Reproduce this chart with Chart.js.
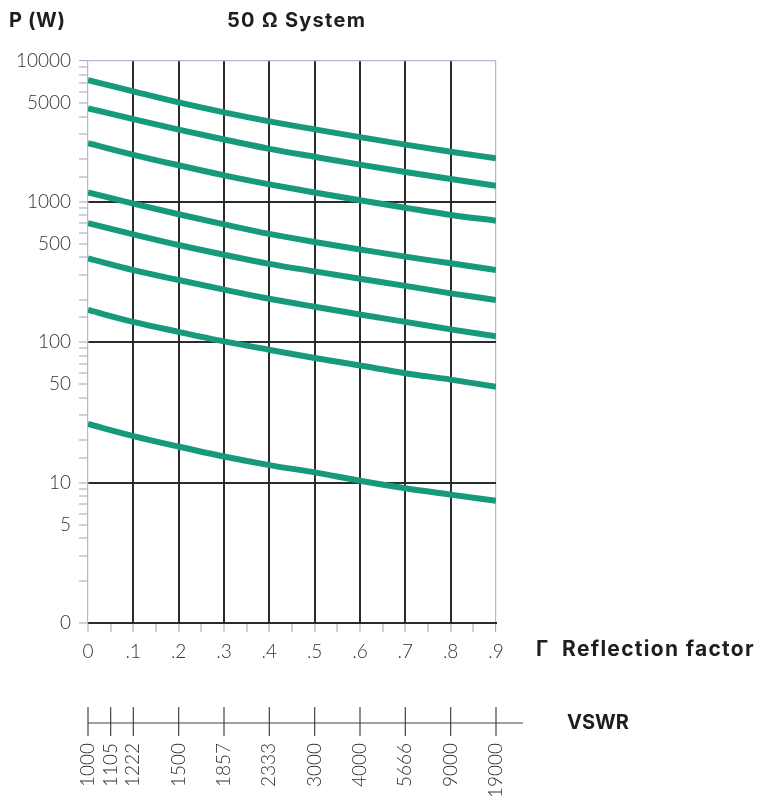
<!DOCTYPE html>
<html>
<head>
<meta charset="utf-8">
<script src="https://cdn.jsdelivr.net/npm/chart.js@4.4.1/dist/chart.umd.min.js"></script>
<style>
    body { margin: 0; background: #fff; }
    #wrap { position: relative; width: 763px; height: 801px; }
    .t { position: absolute; font-family: Inter, 'Open Sans', sans-serif; font-weight: 700; color: #1e1e1e; white-space: nowrap; line-height: 1; }
</style>
</head>
<body>
<div id="wrap">
    <canvas id="chart" width="763" height="801"></canvas>
    <div class="t" style="left:9px; top:10px; font-size:20px; letter-spacing:0.6px;">P (W)</div>
    <div class="t" style="left:227px; top:10px; font-size:20px; letter-spacing:1.3px;">50 Ω System</div>
    <div class="t" style="left:536px; top:638px; font-size:21px; letter-spacing:1.3px;">Γ&nbsp;&nbsp;Reflection factor</div>
    <div class="t" style="left:567px; top:712px; font-size:20px;">VSWR</div>
</div>
<script>
// Reflection factor positions
const gammaValues = [0, 0.1, 0.2, 0.3, 0.4, 0.5, 0.6, 0.7, 0.8, 0.9];

// Power curves (W)
const curve1 = [7320, 6080, 5070, 4310, 3720, 3260, 2870, 2540, 2260, 2030];
const curve2 = [4600, 3860, 3250, 2760, 2370, 2080, 1830, 1620, 1445, 1295];
const curve3 = [2600, 2150, 1810, 1535, 1325, 1160, 1020, 903, 802, 730];
const curve4 = [1160, 965, 812, 688, 588, 515, 456, 405, 363, 325];
const curve5 = [700, 584, 490, 418, 360, 318, 282, 251, 222, 199];
const curve6 = [394, 325, 276, 236, 203, 178, 157, 139, 123, 110];
const curve7 = [169, 139, 118, 101, 88, 77, 68, 60, 54, 48];
const curve8 = [26.1, 21.4, 18.0, 15.3, 13.3, 11.8, 10.3, 9.1, 8.2, 7.4];

// y tick labels (value -> text)
const yTickValues = [1, 5, 10, 50, 100, 500, 1000, 5000, 10000];
const yTickTexts  = ['0', '5', '10', '50', '100', '500', '1000', '5000', '10000'];

// VSWR scale under the chart
const vswrGamma  = [0, 0.05, 0.1, 0.2, 0.3, 0.4, 0.5, 0.6, 0.7, 0.8, 0.9];
const vswrLabels = ['1000', '1105', '1222', '1500', '1857', '2333', '3000', '4000', '5666', '9000', '19000'];

const curves = [curve1, curve2, curve3, curve4, curve5, curve6, curve7, curve8];
const TEAL = '#17997b';
const DARK = '#2b2b2b';
const LIGHT = '#aebbcc';
const tickFont = { family: "Lato, 'Open Sans', sans-serif", size: 19, weight: '300' };

const datasets = curves.map((c, i) => ({
    label: 'P' + (i + 1),
    data: c.map((v, k) => ({ x: gammaValues[k], y: v })),
    borderColor: TEAL,
    borderWidth: 6,
    pointRadius: 0,
    cubicInterpolationMode: 'monotone',
    fill: false
}));

// VSWR axis drawn from the x scale
const vswrAxis = {
    id: 'vswrAxis',
    afterDraw(chart) {
        const ctx = chart.ctx;
        const xs = chart.scales.x;
        const yLine = chart.chartArea.bottom + 100;
        ctx.save();
        ctx.strokeStyle = '#444';
        ctx.lineWidth = 1.2;
        ctx.beginPath();
        ctx.moveTo(xs.getPixelForValue(0), yLine);
        ctx.lineTo(xs.getPixelForValue(0.9) + 27, yLine);
        ctx.stroke();
        ctx.fillStyle = '#333';
        ctx.font = '300 19px Lato, "Open Sans", sans-serif';
        vswrGamma.forEach((g, i) => {
            const px = xs.getPixelForValue(g);
            ctx.beginPath();
            ctx.moveTo(px, yLine - 16);
            ctx.lineTo(px, yLine + 13);
            ctx.stroke();
            ctx.save();
            ctx.translate(px, yLine + 20);
            ctx.rotate(-Math.PI / 2);
            ctx.textAlign = 'right';
            ctx.textBaseline = 'middle';
            ctx.fillText(vswrLabels[i], 0, 0);
            ctx.restore();
        });
        ctx.restore();
    }
};

const xIsMajor = v => Math.round(v * 100) % 10 === 0;

new Chart(document.getElementById('chart'), {
    type: 'line',
    data: { datasets: datasets },
    options: {
        responsive: false,
        animation: false,
        events: [],
        layout: { padding: { top: 61, right: 267, bottom: 138, left: 0 } },
        plugins: { legend: { display: false }, tooltip: { enabled: false } },
        scales: {
            x: {
                type: 'linear',
                min: 0,
                max: 0.9,
                afterFit: s => { s.height = 40; },
                border: { color: DARK, width: 2 },
                grid: {
                    color: c => {
                        const v = Math.round(c.tick.value * 100);
                        if (v === 0) return 'rgba(0,0,0,0)';
                        if (v === 90) return LIGHT;
                        return v % 10 === 0 ? DARK : 'rgba(0,0,0,0)';
                    },
                    lineWidth: c => Math.round(c.tick.value * 100) === 90 ? 1.2 : 2,
                    tickColor: '#9aa5b4',
                    tickWidth: 1,
                    tickLength: 9
                },
                ticks: {
                    stepSize: 0.05,
                    autoSkip: false,
                    maxRotation: 0,
                    padding: 8,
                    color: '#333',
                    font: tickFont,
                    callback: v => {
                        if (!xIsMajor(v)) return '';
                        const n = Math.round(v * 10);
                        return n === 0 ? '0' : '.' + n;
                    }
                }
            },
            y: {
                type: 'logarithmic',
                min: 1,
                max: 10000,
                afterFit: s => { s.width = 88; },
                border: { color: LIGHT, width: 1.2 },
                grid: {
                    color: c => {
                        const v = Math.round(c.tick.value);
                        if (v === 10 || v === 100 || v === 1000) return DARK;
                        if (v === 10000) return LIGHT;
                        return 'rgba(0,0,0,0)';
                    },
                    lineWidth: c => Math.round(c.tick.value) === 10000 ? 1.2 : 2,
                    tickColor: '#9aa5b4',
                    tickWidth: 1,
                    tickLength: 9
                },
                ticks: {
                    autoSkip: false,
                    padding: 8,
                    color: '#333',
                    font: tickFont,
                    callback: v => {
                        const i = yTickValues.indexOf(Math.round(v));
                        return i >= 0 ? yTickTexts[i] : '';
                    }
                }
            }
        }
    },
    plugins: [vswrAxis]
});
</script>
</body>
</html>
